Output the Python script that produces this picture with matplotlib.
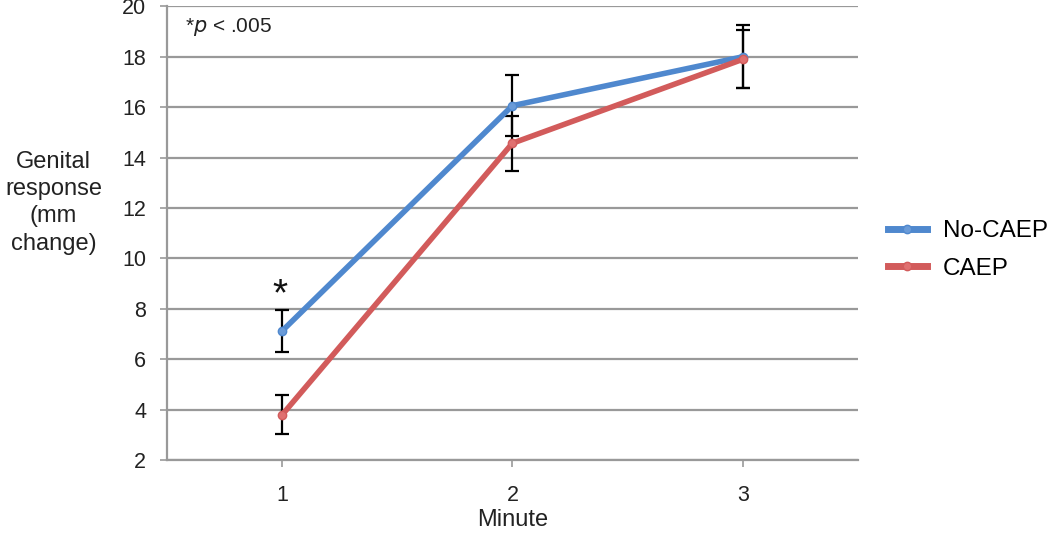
import numpy as np
import matplotlib.pyplot as plt

plt.rcParams['font.family'] = ['Liberation Sans', 'DejaVu Sans']

minutes = ['1', '2', '3']
no_caep = [7.12, 16.06, 18.0]
no_caep_err = [0.85, 1.22, 1.25]
caep = [3.79, 14.57, 17.9]
caep_err = [0.77, 1.1, 1.15]

blue = '#4F88CE'
red = '#D25B5B'

fig = plt.figure(figsize=(10.5, 5.34), dpi=100)
ax = fig.add_axes([0.159, 0.1386, 0.658, 0.8494])

x = np.arange(len(minutes)) + 1

ax.errorbar(x, no_caep, yerr=no_caep_err, fmt='none', ecolor='black',
            elinewidth=1.6, capsize=5, capthick=1.6, zorder=2)
ax.errorbar(x, caep, yerr=caep_err, fmt='none', ecolor='black',
            elinewidth=1.6, capsize=5, capthick=1.6, zorder=2)
ax.plot(x, no_caep, color=blue, lw=4, marker='o', ms=6,
        markerfacecolor='#6A9BD8', markeredgecolor=blue, label='No-CAEP', zorder=3)
ax.plot(x, caep, color=red, lw=4, marker='o', ms=6,
        markerfacecolor='#E07070', markeredgecolor=red, label='CAEP', zorder=3)

ax.text(0.99, 8.55, '*', ha='center', va='center', fontsize=28, color='#111111')
ax.text(0.578, 19.2, '*$\\it{p}$ < .005', fontsize=15, ha='left', va='center',
        color='#222222')

ax.set_xlim(0.5, 3.5)
ax.set_ylim(2, 20)
ax.set_xticks(x)
ax.set_xticklabels(minutes)
ax.set_yticks(np.arange(2, 21, 2))
ax.yaxis.grid(True, color='#999999', lw=1.6)
ax.set_axisbelow(True)
for s in ['top', 'right']:
    ax.spines[s].set_visible(False)
for s in ['left', 'bottom']:
    ax.spines[s].set_color('#999999')
    ax.spines[s].set_linewidth(1.6)
ax.tick_params(axis='both', colors='#999999', length=5, width=1.2, labelsize=15.5,
               labelcolor='#222222')
ax.tick_params(axis='y', pad=10)
ax.tick_params(axis='x', pad=13)

ax.set_xlabel('Minute', fontsize=17, color='#222222', labelpad=2)
fig.text(0.051, 0.62, 'Genital\nresponse\n(mm\nchange)', ha='center', va='center',
         fontsize=17, color='#222222', linespacing=1.3)

leg = ax.legend(loc='center left', bbox_to_anchor=(1.0435, 0.463), frameon=False,
                fontsize=17.5, handlelength=1.6, handletextpad=0.66,
                labelspacing=0.65, borderpad=0, borderaxespad=0)
for ln in leg.get_lines():
    ln.set_linewidth(5)

fig.savefig('out.png', dpi=100)
